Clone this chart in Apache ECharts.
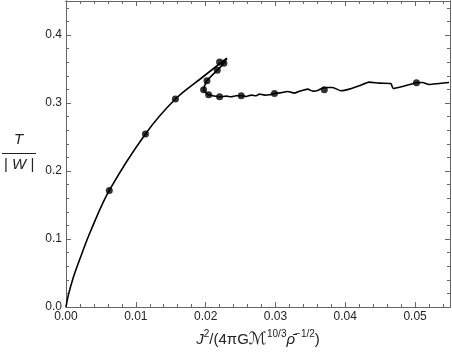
<!DOCTYPE html>
<html>
<head>
<meta charset="utf-8">
<script src="https://cdn.jsdelivr.net/npm/echarts@6/dist/echarts.min.js"></script>
<style>
  * { margin: 0; padding: 0; }
  body { background: #fff; }
</style>
</head>
<body>
<div id="chart" style="width: 452px; height: 354px"></div>
<script>
// main branch, origin up to the tip
const mainBranch = [
  [0, 0], [0.0003, 0.016], [0.001, 0.042], [0.002, 0.071], [0.0035, 0.111],
  [0.0062, 0.1714], [0.01138, 0.2545], [0.01567, 0.3058], [0.0195, 0.3375],
  [0.02304, 0.3658]
];
// branch coming back from the tip, then the wiggly tail
const returnBranch = [
  [0.02304, 0.3658], [0.02261, 0.3585], [0.02167, 0.3483], [0.02019, 0.3326],
  [0.01971, 0.3194], [0.02043, 0.3121], [0.0220, 0.3092], [0.02295, 0.3101],
  [0.02367, 0.3092], [0.02438, 0.3106], [0.0251, 0.3106], [0.02581, 0.3096],
  [0.02652, 0.3116], [0.02724, 0.3106], [0.02771, 0.3131], [0.02843, 0.3116],
  [0.02914, 0.3121], [0.02986, 0.314], [0.03081, 0.315], [0.03176, 0.317],
  [0.03271, 0.3145], [0.03367, 0.318], [0.03462, 0.3204], [0.03533, 0.3175],
  [0.03605, 0.3184], [0.03676, 0.3219], [0.03748, 0.3228], [0.03819, 0.3228],
  [0.03938, 0.318], [0.04057, 0.3204], [0.042, 0.3253], [0.04343, 0.3307],
  [0.04486, 0.3292], [0.04652, 0.3287], [0.04686, 0.3214], [0.04819, 0.3243],
  [0.0502, 0.3297], [0.05105, 0.3301], [0.052, 0.3272], [0.05343, 0.3287],
  [0.05486, 0.3301]
];
// marked models
const dots = [
  [0.0062, 0.1714], [0.01138, 0.2545], [0.01567, 0.3058], [0.0220, 0.3604],
  [0.02261, 0.3585], [0.02167, 0.3483], [0.02019, 0.3326], [0.01971, 0.3194],
  [0.02043, 0.3121], [0.0220, 0.3092], [0.0251, 0.3106], [0.02986, 0.314],
  [0.0370, 0.3194], [0.0502, 0.3297]
];
const xTicks = { min: 0, max: 0.055, major: 0.01, minor: 0.002 };
const yTicks = { min: 0, max: 0.45, major: 0.1, minor: 0.02 };

const frameColor = "#666";
const textColor = "#222";

// one axis per side for the major ticks, one for the minor ticks
function makeAxis(t, position, step, tickLen, labels, digits) {
  return {
    type: "value",
    position: position,
    min: t.min,
    max: t.max,
    interval: step,
    axisLine: { show: true, onZero: false, lineStyle: { color: frameColor, width: 1 } },
    axisTick: { show: true, inside: true, length: tickLen, lineStyle: { color: frameColor } },
    splitLine: { show: false },
    axisLabel: {
      show: labels,
      showMaxLabel: false,
      color: textColor,
      fontSize: 12,
      fontFamily: "Liberation Sans",
      margin: 4,
      formatter: (v) => v.toFixed(digits),
    },
  };
}

const chart = echarts.init(document.getElementById("chart"));
const xMain = makeAxis(xTicks, "bottom", xTicks.major, 5, true, 2);
xMain.name = "{i|J}{s|2}{n|/(4πG}{m|ℳ}{s|10/3}{i|ρ̄}{s|−1/2}{n|)}";
xMain.nameLocation = "middle";
xMain.nameGap = 22;
xMain.nameTextStyle = {
  color: textColor,
  rich: {
    i: { fontStyle: "italic", fontSize: 15, fontFamily: "Liberation Sans", lineHeight: 22, color: textColor },
    n: { fontSize: 15, fontFamily: "Liberation Sans", lineHeight: 22, color: textColor },
    m: { fontSize: 17, fontFamily: "DejaVu Sans", lineHeight: 22, color: textColor },
    s: { fontSize: 10, fontFamily: "Liberation Sans", verticalAlign: "top", lineHeight: 22, color: textColor },
  },
};

chart.setOption({
  animation: false,
  grid: { left: 66, right: 2, top: 1, bottom: 47 },
  xAxis: [
    xMain,
    makeAxis(xTicks, "bottom", xTicks.minor, 3, false, 3),
    makeAxis(xTicks, "top", xTicks.major, 5, false, 2),
    makeAxis(xTicks, "top", xTicks.minor, 3, false, 3),
  ],
  yAxis: [
    makeAxis(yTicks, "left", yTicks.major, 5, true, 1),
    makeAxis(yTicks, "left", yTicks.minor, 3, false, 2),
    makeAxis(yTicks, "right", yTicks.major, 5, false, 1),
    makeAxis(yTicks, "right", yTicks.minor, 3, false, 2),
  ],
  graphic: [
    {
      type: "text",
      left: 14,
      top: 132,
      style: { text: "T", font: "italic 15px Liberation Sans", fill: textColor },
    },
    {
      type: "line",
      shape: { x1: 2, y1: 153.5, x2: 36, y2: 153.5 },
      style: { stroke: textColor, lineWidth: 1 },
    },
    {
      type: "text",
      left: 4,
      top: 157,
      style: {
        text: "{n|| }{i|W}{n| |}",
        rich: {
          n: { fontSize: 15, fontFamily: "Liberation Sans", fill: textColor },
          i: { fontSize: 15, fontFamily: "Liberation Sans", fontStyle: "italic", fill: textColor },
        },
      },
    },
  ],
  series: [
    {
      type: "line",
      data: mainBranch,
      smooth: 0.35,
      showSymbol: false,
      lineStyle: { color: "#000", width: 1.6 },
    },
    {
      type: "line",
      data: returnBranch,
      smooth: 0.2,
      showSymbol: false,
      lineStyle: { color: "#000", width: 1.6 },
    },
    {
      type: "scatter",
      data: dots,
      symbolSize: 7,
      itemStyle: { color: "#000" },
    },
  ],
});
</script>
</body>
</html>
